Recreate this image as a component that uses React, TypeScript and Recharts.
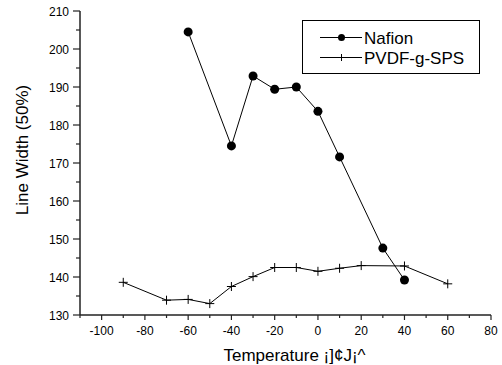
import React from 'react';
import { LineChart, Line, XAxis, YAxis, Legend } from 'recharts';

const nafionTemps = [-60, -40, -30, -20, -10, 0, 10, 30, 40];
const nafionWidths = [204.5, 174.5, 192.9, 189.4, 190.0, 183.6, 171.6, 147.6, 139.2];

const pvdfTemps = [-90, -70, -60, -50, -40, -30, -20, -10, 0, 10, 20, 40, 60];
const pvdfWidths = [138.6, 133.9, 134.1, 133.0, 137.5, 140.1, 142.5, 142.5, 141.5, 142.3, 143.0, 142.9, 138.2];

const xTicks = [-110, -100, -90, -80, -70, -60, -50, -40, -30, -20, -10, 0, 10, 20, 30, 40, 50, 60, 70, 80];
const yTicks = [130, 135, 140, 145, 150, 155, 160, 165, 170, 175, 180, 185, 190, 195, 200, 205, 210];

const xTitle = 'Temperature ¡]¢J¡^';
const yTitle = 'Line Width (50%)';

const nafionData = nafionTemps.map((t, i) => ({ temp: t, width: nafionWidths[i] }));
const pvdfData = pvdfTemps.map((t, i) => ({ temp: t, width: pvdfWidths[i] }));

const FONT = '"Liberation Sans", Arial, sans-serif';
const AXIS = '#222';

const BottomTick = ({ x, y, payload }: any) => {
  const major = payload.value % 20 === 0;
  return (
    <g>
      <line x1={x} x2={x} y1={y} y2={y + (major ? 5 : 3)} stroke={AXIS} strokeWidth={1.2} />
      {major && (
        <text x={x} y={y + 20} textAnchor="middle" fontSize={12} fontFamily={FONT} fill="#000">
          {payload.value}
        </text>
      )}
    </g>
  );
};

const TopTick = ({ x, y, payload }: any) => {
  const major = payload.value % 20 === 0;
  return <line x1={x} x2={x} y1={y} y2={y + (major ? 4 : 2.5)} stroke={AXIS} strokeWidth={1.2} />;
};

const LeftTick = ({ x, y, payload }: any) => {
  const major = payload.value % 10 === 0;
  return (
    <g>
      <line x1={x - (major ? 7 : 4)} x2={x} y1={y} y2={y} stroke={AXIS} strokeWidth={1.2} />
      {major && (
        <text x={x - 11} y={y + 4.5} textAnchor="end" fontSize={12} fontFamily={FONT} fill="#000">
          {payload.value}
        </text>
      )}
    </g>
  );
};

const RightTick = ({ x, y, payload }: any) => {
  const major = payload.value % 10 === 0;
  return <line x1={x - (major ? 4 : 2.5)} x2={x} y1={y} y2={y} stroke={AXIS} strokeWidth={1.2} />;
};

const CircleDot = ({ cx, cy }: any) => <circle cx={cx} cy={cy} r={4.5} fill="#000" />;

const PlusDot = ({ cx, cy }: any) => (
  <path d={`M${cx - 4.5},${cy}H${cx + 4.5}M${cx},${cy - 4.5}V${cy + 4.5}`} stroke="#000" strokeWidth={1} fill="none" />
);

const LegendBox = ({ payload }: any) => (
  <svg width={178} height={54} style={{ display: 'block' }}>
    <rect x={0.5} y={0.5} width={177} height={53} fill="#fff" stroke="#000" strokeWidth={1} />
    {(payload || []).map((entry: any, i: number) => {
      const cy = 17.5 + i * 20;
      return (
        <g key={entry.value}>
          <line x1={18} x2={60} y1={cy} y2={cy} stroke="#000" strokeWidth={1} />
          {i === 0 ? (
            <circle cx={39.5} cy={cy} r={3.5} fill="#000" />
          ) : (
            <path d={`M36,${cy}H43M39.5,${cy - 3.5}V${cy + 3.5}`} stroke="#000" strokeWidth={1} />
          )}
          <text x={62} y={cy + 6} fontSize={17} fontFamily={FONT} fill="#000">
            {entry.value}
          </text>
        </g>
      );
    })}
  </svg>
);

export default function App() {
  return (
    <div style={{ position: 'absolute', left: 0, top: 0, background: '#fff' }}>
      <LineChart width={502} height={365} margin={{ top: 11, right: 11, bottom: 0, left: 0 }} style={{ fontFamily: FONT }}>
        <XAxis
          xAxisId="bottom"
          type="number"
          dataKey="temp"
          domain={[-110, 80]}
          ticks={xTicks}
          interval={0}
          height={50}
          tickSize={0}
          tickMargin={0}
          tickLine={false}
          tick={<BottomTick />}
          axisLine={{ stroke: AXIS, strokeWidth: 1.5 }}
          allowDataOverflow
          label={{
            content: ({ viewBox }: any) => (
              <text x={viewBox.x + viewBox.width / 2 + 9} y={viewBox.y + 46} textAnchor="middle" fontSize={17} fontFamily={FONT} fill="#000">
                {xTitle}
              </text>
            ),
          }}
        />
        <XAxis
          xAxisId="top"
          orientation="top"
          type="number"
          dataKey="temp"
          domain={[-110, 80]}
          ticks={xTicks}
          interval={0}
          height={0}
          tickSize={0}
          tickMargin={0}
          tickLine={false}
          tick={<TopTick />}
          axisLine={{ stroke: AXIS, strokeWidth: 1.5 }}
          allowDataOverflow
        />
        <YAxis
          yAxisId="left"
          type="number"
          domain={[130, 210]}
          ticks={yTicks}
          interval={0}
          width={80}
          tickSize={0}
          tickMargin={0}
          tickLine={false}
          tick={<LeftTick />}
          axisLine={{ stroke: AXIS, strokeWidth: 1.5 }}
          allowDataOverflow
          label={{
            content: () => (
              <text x={28} y={150} transform="rotate(-90 28 150)" textAnchor="middle" fontSize={17} fontFamily={FONT} fill="#000">
                {yTitle}
              </text>
            ),
          }}
        />
        <YAxis
          yAxisId="right"
          orientation="right"
          type="number"
          domain={[130, 210]}
          ticks={yTicks}
          interval={0}
          width={0}
          tickSize={0}
          tickMargin={0}
          tickLine={false}
          tick={<RightTick />}
          axisLine={{ stroke: AXIS, strokeWidth: 1.5 }}
          allowDataOverflow
        />
        <Legend
          layout="horizontal"
          verticalAlign="middle"
          align="center"
          content={<LegendBox />}
          wrapperStyle={{ left: 302, top: 20, width: 178, height: 54 }}
        />
        <Line
          xAxisId="bottom"
          yAxisId="left"
          data={nafionData}
          dataKey="width"
          name="Nafion"
          stroke="#000"
          strokeWidth={1}
          dot={<CircleDot />}
          activeDot={false}
          isAnimationActive={false}
        />
        <Line
          xAxisId="bottom"
          yAxisId="left"
          data={pvdfData}
          dataKey="width"
          name="PVDF-g-SPS"
          stroke="#000"
          strokeWidth={1}
          dot={<PlusDot />}
          activeDot={false}
          isAnimationActive={false}
        />
      </LineChart>
    </div>
  );
}
